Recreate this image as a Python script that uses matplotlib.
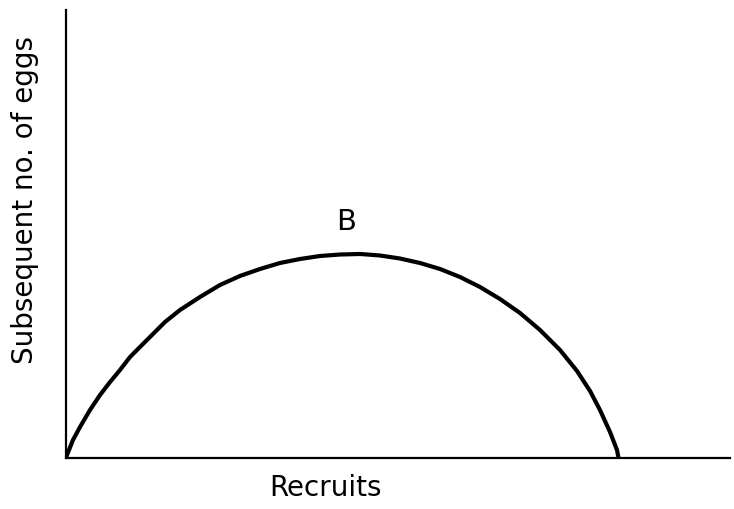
import matplotlib
matplotlib.use("Agg")
import matplotlib.pyplot as plt

recruits = [0.0, 0.15, 1.05, 2.11, 3.61, 5.12, 6.63, 8.13, 9.64, 11.14, 13.10, 14.91,
            17.17, 20.18, 23.19, 26.20, 29.22, 32.23, 35.24, 38.25, 41.27, 44.28,
            47.29, 50.30, 53.31, 56.33, 59.34, 62.35, 65.36, 68.37, 71.39, 74.40,
            76.96, 78.92, 80.42, 81.93, 82.98, 83.21]
eggs = [0.0, 0.67, 4.02, 6.92, 10.71, 14.06, 16.96, 19.64, 22.54, 24.78, 27.68, 30.36,
        33.04, 35.94, 38.62, 40.63, 42.19, 43.53, 44.42, 45.09, 45.42, 45.54,
        45.20, 44.53, 43.53, 42.19, 40.40, 38.17, 35.49, 32.37, 28.57, 24.11,
        19.42, 14.96, 10.71, 5.80, 1.79, 0.0]
curve_label = "B"
x_label = "Recruits"
y_label = "Subsequent no. of eggs"

fig = plt.figure(figsize=(7.34, 5.09), dpi=100)
ax = fig.add_axes([66/734, 51/509, 664/734, 448/509])
ax.plot(recruits, eggs, color="black", linewidth=3.0, solid_capstyle="butt",
        solid_joinstyle="round")
ax.set_xlim(0, 100)
ax.set_ylim(0, 100)
for s in ["top", "right"]:
    ax.spines[s].set_visible(False)
for s in ["left", "bottom"]:
    ax.spines[s].set_linewidth(1.6)
ax.set_xticks([])
ax.set_yticks([])
ax.text(42.2, 52.7, curve_label, fontsize=21, ha="center", va="center")
fig.text(325/734, 1 - 488/509, x_label, fontsize=20, ha="center", va="center")
fig.text(25/734, 1 - 200/509, y_label, fontsize=20, ha="center", va="center", rotation=90)
fig.savefig("out.png", dpi=100)
